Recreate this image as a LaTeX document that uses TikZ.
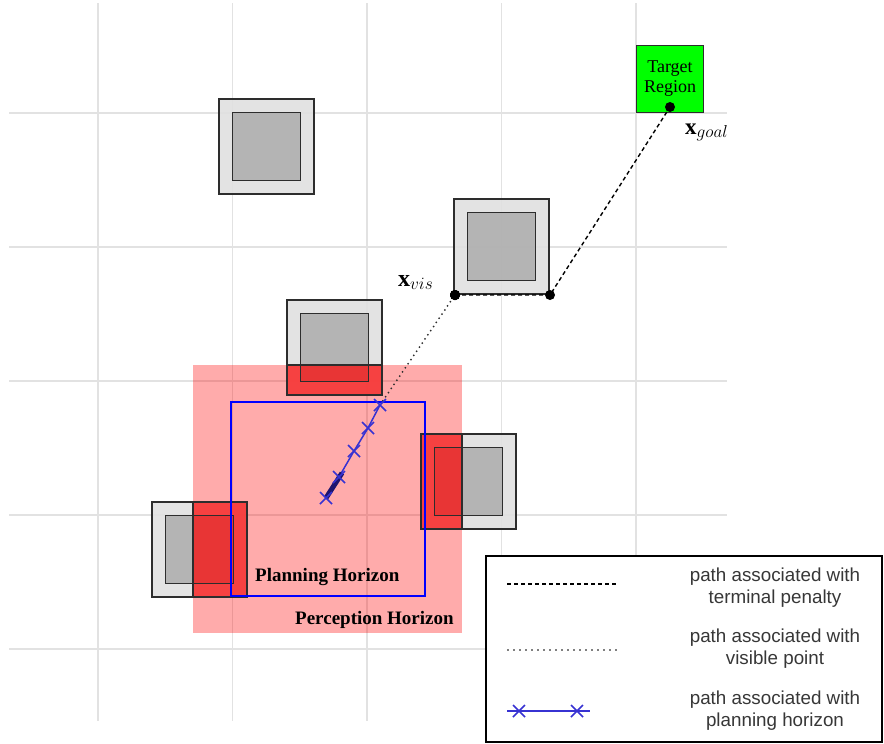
\documentclass[tikz,border=0pt]{standalone}
\usepackage{fontspec}
\setmainfont{Liberation Serif}
\newfontfamily\legendfont{Liberation Sans}
\usetikzlibrary{positioning}
\definecolor{gridgray}{RGB}{226,226,226}
\definecolor{obsouter}{RGB}{224,224,224}
\definecolor{obsinner}{RGB}{175,175,175}
\definecolor{obsedge}{RGB}{45,45,45}
\definecolor{goalgreen}{RGB}{0,255,0}
\definecolor{pathblue}{RGB}{55,50,210}
\definecolor{pathdark}{RGB}{30,20,110}
\definecolor{legendtext}{RGB}{55,55,55}

\tikzset{
  gridline/.style={gridgray, line width=1.5pt},
  obsbox/.style={draw=obsedge, line width=1.5pt, fill=obsouter, fill opacity=0.9},
  obscore/.style={draw=obsedge, line width=1.5pt, fill=obsinner, fill opacity=0.9},
  horizonlabel/.style={font=\fontsize{19}{22}\selectfont\bfseries, inner sep=0pt, anchor=west},
  legendlabel/.style={font=\legendfont\fontsize{18.8}{22}\selectfont, text=legendtext, align=center},
  terminalpath/.style={dash pattern=on 4pt off 3pt, line width=1.4pt, black},
  visiblepath/.style={dash pattern=on 0pt off 5pt, line cap=round, line width=2pt, obsedge},
  planpath/.style={pathblue, line width=1.5pt},
}

% one obstacle: outer box with inflated margin, inner core
\newcommand{\obstacle}[2]{%
  \draw[obsbox] (#1,#2) rectangle ++(95,95);
  \draw[obscore] (#1+13.5,#2+13.5) rectangle ++(68,68);
}
\newcommand{\obsoutline}[2]{%
  \draw[draw=obsedge, line width=1.5pt] (#1,#2) rectangle ++(95,95);
  \draw[draw=obsedge, line width=1.5pt] (#1+13.5,#2+13.5) rectangle ++(68,68);
}
\newcommand{\crossmark}[1]{%
  \draw[planpath] (#1) ++(-6,-6) -- ++(12,12) (#1) ++(-6,6) -- ++(12,-12);
}

\begin{document}
\begin{tikzpicture}[x=1pt, y=-1pt]
  \useasboundingbox (0,0) rectangle (884,744);

  % grid
  \foreach \gx in {98,232.5,367,501.5,636}
    \draw[gridline] (\gx,3) -- (\gx,721);
  \foreach \gy in {113,247,381,515,649}
    \draw[gridline] (9,\gy) -- (727,\gy);

  % perception horizon
  \fill[red, fill opacity=0.33] (193,365) rectangle (462,633);

  % obstacles
  \obstacle{219}{99}
  \obstacle{454}{199}
  \obstacle{287}{300}
  \obstacle{421}{434}
  \obstacle{152}{502}

  % parts of obstacles that are perceived
  \begin{scope}
    \clip (193,365) rectangle (462,633);
    \foreach \ox/\oy in {287/300,421/434,152/502}
      \fill[red, fill opacity=0.7] (\ox,\oy) rectangle ++(95,95);
  \end{scope}
  \obsoutline{287}{300}
  \obsoutline{421}{434}
  \obsoutline{152}{502}
  \draw[obsedge, line width=1.5pt] (462,434) -- (462,529);
  \draw[obsedge, line width=1.5pt] (193,502) -- (193,597);
  \draw[obsedge, line width=1.2pt] (287,365) -- (381,365);

  % planning horizon
  \draw[blue, line width=1.3pt] (231,402) rectangle (425,596);

  % target region
  \node[draw=obsedge, line width=1.2pt, fill=goalgreen, minimum size=67pt, inner sep=0pt,
        align=center, font=\fontsize{18}{20}\selectfont] (target) at (670,79) {Target\\Region};

  % path points
  \coordinate (m1) at (326,498);
  \coordinate (m2) at (339,477);
  \coordinate (m3) at (354,451);
  \coordinate (m4) at (368,428);
  \coordinate (m5) at (380,405);
  \coordinate (seg) at (342,473);
  \coordinate (xvis) at (455,295);
  \coordinate (vcorner) at (550,295);
  \coordinate (xgoal) at (670,107);

  \draw[visiblepath] (m5) -- (xvis);
  \draw[terminalpath] (xvis) -- (vcorner) -- (xgoal);
  \draw[planpath] (m1) -- (m2) -- (m3) -- (m4) -- (m5);
  \draw[pathdark, line width=5pt] (m1) -- (seg);
  \foreach \m in {m1,m2,m3,m4,m5}
    \crossmark{\m}
  \fill (xvis) circle (5);
  \fill (vcorner) circle (5);
  \fill (xgoal) circle (5);

  \node[font=\fontsize{24}{28}\selectfont, anchor=base west, inner sep=0pt] (visname) at (398,286) {$\mathbf{x}_{vis}$};
  \node[font=\fontsize{23}{27}\selectfont, anchor=base west, inner sep=0pt] (goalname) at (685,134) {$\mathbf{x}_{goal}$};

  \node[horizonlabel] (planname) at (255,577) {Planning Horizon};
  \node[horizonlabel] (percname) at (295,620) {Perception Horizon};

  % legend
  \draw[black, line width=1.3pt, fill=white] (486,556) rectangle (882,742);
  \coordinate (la) at (507,584);
  \coordinate (lb) at (617,584);
  \coordinate (lc) at (507,650);
  \coordinate (ld) at (617,650);
  \coordinate (le) at (507,711);
  \coordinate (lf) at (590,711);
  \coordinate (lx1) at (519,711);
  \coordinate (lx2) at (577,711);
  \draw[terminalpath, line width=1.2pt] (la) -- (lb);
  \draw[dash pattern=on 2pt off 4pt, line width=1.2pt, gray] (lc) -- (ld);
  \draw[planpath] (le) -- (lf);
  \crossmark{lx1}
  \crossmark{lx2}
  \node[legendlabel] (lterm) at (775,588) {path associated with\\terminal penalty};
  \node[legendlabel] (lvis) at (775,649) {path associated with\\visible point};
  \node[legendlabel] (lplan) at (775,711) {path associated with\\planning horizon};
\end{tikzpicture}
\end{document}
